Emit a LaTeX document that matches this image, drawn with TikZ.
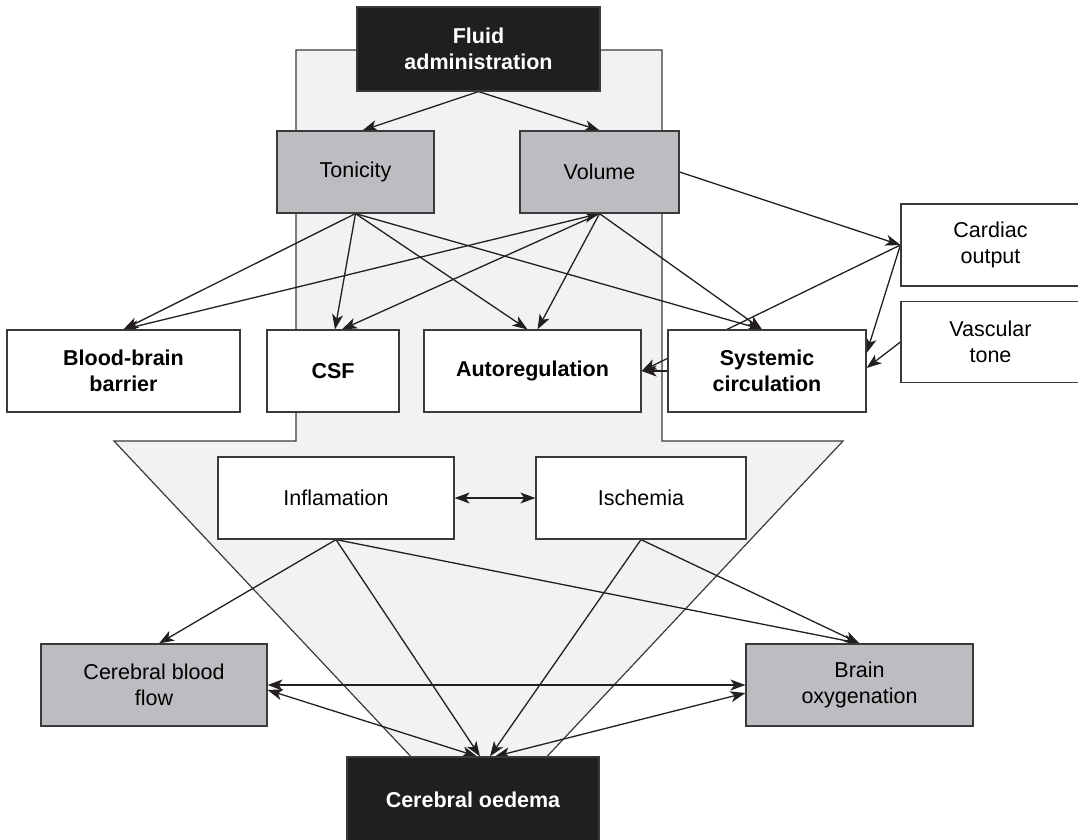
\documentclass[tikz,border=0pt]{standalone}
\usepackage{fontspec}
\setmainfont{Liberation Sans}
\usetikzlibrary{arrows.meta,calc}

\definecolor{hellgrau}{HTML}{F1F2F4}
\definecolor{kastengrau}{HTML}{BCBDC0}
\definecolor{schwarzton}{HTML}{1E1F21}
\definecolor{rand}{HTML}{3A3A3A}
\definecolor{linie}{HTML}{231F20}

\pgfdeclarelayer{hinten}
\pgfdeclarelayer{linien}
\pgfsetlayers{hinten,linien,main}

\tikzset{
  kasten/.style={draw=rand, line width=1.2pt, minimum height=82pt, inner sep=0pt,
    align=center, font=\fontsize{21.5}{26}\selectfont},
  fett/.style={font=\fontsize{21.5}{26}\selectfont\bfseries},
  weiss/.style={kasten, fill=white},
  grau/.style={kasten, fill=kastengrau},
  schwarz/.style={kasten, fett, fill=schwarzton, text=white},
  spitze/.tip={Stealth[length=15pt,width=11pt,inset=4pt]},
  pfeil/.style={line width=1.3pt, draw=linie, -spitze},
  doppel/.style={line width=1.3pt, draw=linie, spitze-spitze},
  linie/.style={line width=1.3pt, draw=linie}
}

\begin{document}
\begin{tikzpicture}[x=1pt,y=-1pt]

\useasboundingbox (0,0) rectangle (1078,839);

% Kasten oben
\node[schwarz, minimum width=243pt, minimum height=84pt] (fluid) at (478.5,49) {Fluid\\administration};
\node[grau, minimum width=157pt] (tonicity) at (355.5,172) {Tonicity};
\node[grau, minimum width=159pt] (volume) at (599.5,172) {Volume};
\node[weiss, minimum width=179pt] (cardiac) at (990.5,245) {Cardiac\\output};
\node[weiss, minimum width=179pt, minimum height=81pt] (vascular) at (990.5,342) {Vascular\\tone};

% Mittlere Reihe
\node[weiss, fett, minimum width=233pt] (bbb) at (123.5,371) {Blood-brain\\barrier};
\node[weiss, fett, minimum width=132pt] (csf) at (333,371) {CSF};
\node[weiss, fett, minimum width=217pt] (autoreg) at (532.5,371) {Autoregulation};
\node[weiss, fett, minimum width=198pt] (systemic) at (767,371) {Systemic\\circulation};

\node[weiss, minimum width=236pt] (inflam) at (336,498) {Inflamation};
\node[weiss, minimum width=210pt] (ischemia) at (641,498) {Ischemia};

% Unten
\node[grau, minimum width=226pt] (cbf) at (154,685) {Cerebral blood\\flow};
\node[grau, minimum width=227pt] (brainox) at (859.5,685) {Brain\\oxygenation};
\node[schwarz, minimum width=252pt, minimum height=86pt] (oedema) at (473,800) {Cerebral oedema};

% grosser Pfeil im Hintergrund
\begin{pgfonlayer}{hinten}
  \draw[fill=hellgrau, draw=rand, line width=1.2pt]
    (296,50) -- (662,50) -- (662,441) -- (843,441) -- (479,829)
    -- (114,441) -- (296,441) -- cycle;
\end{pgfonlayer}

% Verbindungen
\begin{pgfonlayer}{linien}
  \draw[pfeil] (fluid.south) -- ($(tonicity.north)+(7,0)$);
  \draw[pfeil] (fluid.south) -- (volume.north);

  \draw[pfeil] (tonicity.south) -- (bbb.north);
  \draw[pfeil] (tonicity.south) -- ($(csf.north)+(2,0)$);
  \draw[pfeil] (tonicity.south) -- ($(autoreg.north)+(-5,0)$);
  \draw[pfeil] (tonicity.south) -- ($(systemic.north)+(-5,0)$);

  \draw[doppel] (volume.south) -- (bbb.north);
  \draw[pfeil] (volume.south) -- ($(csf.north)+(9,0)$);
  \draw[pfeil] (volume.south) -- ($(autoreg.north)+(5,0)$);
  \draw[pfeil] (volume.south) -- ($(systemic.north)+(-5,0)$);
  \draw[pfeil] (volume.east) -- (cardiac.west);

  \draw[pfeil] (cardiac.west) -- (autoreg.east);
  \draw[pfeil] (cardiac.west) -- ($(systemic.east)+(0,-18)$);
  \draw[pfeil] (vascular.west) -- ($(systemic.east)+(0,-3)$);
  \draw[pfeil] (systemic.west) -- (autoreg.east);

  \draw[doppel] (inflam.east) -- (ischemia.west);

  \draw[pfeil] (inflam.south) -- ($(cbf.north)+(5,0)$);
  \draw[pfeil] (inflam.south) -- ($(oedema.north)+(7,0)$);
  \draw[pfeil] (inflam.south) -- (brainox.north);
  \draw[pfeil] (ischemia.south) -- ($(oedema.north)+(17,0)$);
  \draw[pfeil] (ischemia.south) -- (brainox.north);

  \draw[doppel] (cbf.east) -- (brainox.west);
  \draw[doppel] ($(cbf.east)+(0,5)$) -- ($(oedema.north)+(4,0)$);
  \draw[doppel] ($(oedema.north)+(22,0)$) -- ($(brainox.west)+(0,8)$);
\end{pgfonlayer}

\end{tikzpicture}
\end{document}
